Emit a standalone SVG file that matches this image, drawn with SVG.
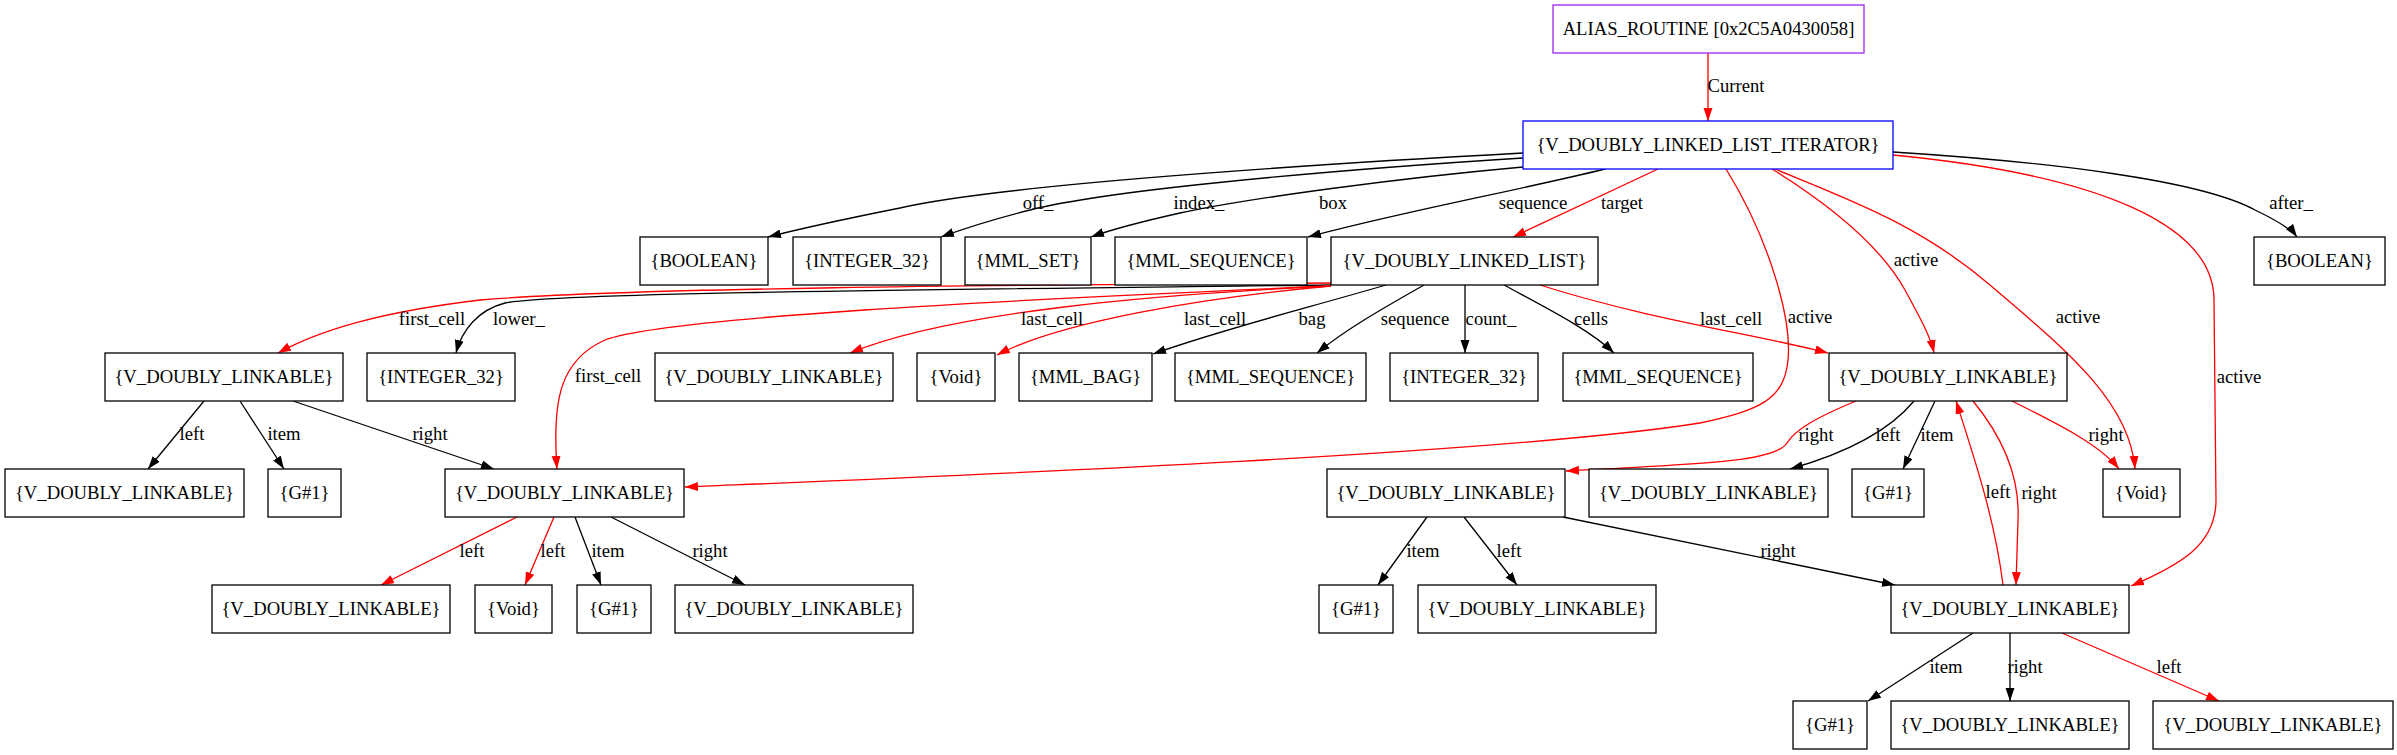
<svg xmlns="http://www.w3.org/2000/svg" width="2397" height="755" viewBox="0 0 2397 755">
<style>
.n rect{fill:#fff;stroke:#000;stroke-width:1.3}
.n text,.l{font-family:"Liberation Serif","Times New Roman",serif;font-size:18.67px;fill:#000;text-anchor:middle}
.e{fill:none;stroke:#000;stroke-width:1.3;marker-end:url(#ab)}
.r{stroke:#f00;marker-end:url(#ar)}
</style>
<defs>
<marker id="ab" markerUnits="userSpaceOnUse" markerWidth="14" markerHeight="10" refX="13" refY="4.5" orient="auto"><path d="M0,0 L13,4.5 L0,9 z" fill="#000"/></marker>
<marker id="ar" markerUnits="userSpaceOnUse" markerWidth="14" markerHeight="10" refX="13" refY="4.5" orient="auto"><path d="M0,0 L13,4.5 L0,9 z" fill="#f00"/></marker>
</defs>
<rect width="2397" height="755" fill="#fff"/>
<g id="edges">
<path class="e r" d="M1708,53 L1708,121"/>
<path class="e" d="M1523,153 C1300,165 1000,185 900,208 C830,222 795,230 768,237"/>
<path class="e" d="M1523,158 C1300,172 1100,192 1030,210 C990,220 960,230 941,237"/>
<path class="e" d="M1523,167 C1400,178 1250,198 1180,213 C1140,222 1110,230 1091,237"/>
<path class="e" d="M1605,169 C1520,190 1400,212 1308,237"/>
<path class="e r" d="M1658,169 L1513,237"/>
<path class="e r" d="M1726,169 C1770,240 1792,320 1788,360 C1784,400 1760,410 1700,423 C1500,455 900,478 685,487"/>
<path class="e r" d="M1772,169 C1830,205 1880,245 1905,290 C1920,318 1930,335 1934,353"/>
<path class="e r" d="M1775,169 C1850,200 1920,225 1990,285 C2060,345 2130,400 2135,469"/>
<path class="e r" d="M1893,155 C2100,175 2214,225 2214,300 L2216,500 C2216,545 2180,565 2131,586"/>
<path class="e" d="M1893,152 C2050,162 2200,180 2255,210 C2280,222 2292,230 2297,237"/>
<path class="e r" d="M1331,283 C1000,285 620,288 480,300 C380,312 320,330 278,353"/>
<path class="e" d="M1331,285 C1000,289 560,292 505,303 C478,310 462,330 456,353"/>
<path class="e r" d="M1331,286 C1000,300 660,318 605,340 C560,360 552,400 557,469"/>
<path class="e r" d="M1331,286 C1150,295 950,312 850,353"/>
<path class="e r" d="M1331,286 C1200,298 1060,322 997,355"/>
<path class="e" d="M1386,285 C1300,310 1220,330 1153,354"/>
<path class="e" d="M1424,285 C1380,310 1345,330 1317,353"/>
<path class="e" d="M1465,285 L1465,353"/>
<path class="e" d="M1504,285 C1550,310 1590,330 1614,353"/>
<path class="e r" d="M1540,285 C1650,320 1760,335 1828,353"/>
<path class="e" d="M204,401 L148,469"/>
<path class="e" d="M240,401 L284,469"/>
<path class="e" d="M293,401 L494,469"/>
<path class="e r" d="M517,517 L381,585"/>
<path class="e r" d="M554,517 L525,585"/>
<path class="e" d="M575,517 L601,585"/>
<path class="e" d="M611,517 L745,585"/>
<path class="e r" d="M1856,401 C1815,418 1795,430 1787,443 C1775,462 1700,464 1566,471"/>
<path class="e" d="M1914,401 C1890,430 1850,452 1790,469"/>
<path class="e" d="M1935,401 L1903,469"/>
<path class="e r" d="M2012,401 C2060,425 2100,445 2119,469"/>
<path class="e r" d="M1973,401 C2005,440 2020,480 2018,520 L2016,585"/>
<path class="e r" d="M2003,585 C1995,520 1975,460 1956,401"/>
<path class="e" d="M1427,517 L1378,585"/>
<path class="e" d="M1464,517 L1517,585"/>
<path class="e" d="M1563,517 L1895,585"/>
<path class="e" d="M1973,633 L1868,701"/>
<path class="e" d="M2010,633 L2010,701"/>
<path class="e r" d="M2062,633 L2219,701"/>
<text class="l" x="1736" y="92">Current</text>
<text class="l" x="1038" y="209">off_</text>
<text class="l" x="1199" y="209">index_</text>
<text class="l" x="1333" y="209">box</text>
<text class="l" x="1533" y="209">sequence</text>
<text class="l" x="1622" y="209">target</text>
<text class="l" x="1810" y="323">active</text>
<text class="l" x="1916" y="266">active</text>
<text class="l" x="2078" y="323">active</text>
<text class="l" x="2239" y="383">active</text>
<text class="l" x="2291" y="209">after_</text>
<text class="l" x="432" y="325">first_cell</text>
<text class="l" x="519" y="325">lower_</text>
<text class="l" x="608" y="382">first_cell</text>
<text class="l" x="1052" y="325">last_cell</text>
<text class="l" x="1215" y="325">last_cell</text>
<text class="l" x="1312" y="325">bag</text>
<text class="l" x="1415" y="325">sequence</text>
<text class="l" x="1491" y="325">count_</text>
<text class="l" x="1591" y="325">cells</text>
<text class="l" x="1731" y="325">last_cell</text>
<text class="l" x="192" y="440">left</text>
<text class="l" x="284" y="440">item</text>
<text class="l" x="430" y="440">right</text>
<text class="l" x="472" y="557">left</text>
<text class="l" x="553" y="557">left</text>
<text class="l" x="608" y="557">item</text>
<text class="l" x="710" y="557">right</text>
<text class="l" x="1816" y="441">right</text>
<text class="l" x="1888" y="441">left</text>
<text class="l" x="1937" y="441">item</text>
<text class="l" x="2106" y="441">right</text>
<text class="l" x="1998" y="498">left</text>
<text class="l" x="2039" y="499">right</text>
<text class="l" x="1423" y="557">item</text>
<text class="l" x="1509" y="557">left</text>
<text class="l" x="1778" y="557">right</text>
<text class="l" x="1946" y="673">item</text>
<text class="l" x="2025" y="673">right</text>
<text class="l" x="2169" y="673">left</text>
</g>
<g id="alias" class="n"><rect x="1553" y="5" width="311" height="48" style="stroke:#a020f0"/><text x="1708.5" y="35">ALIAS_ROUTINE [0x2C5A0430058]</text></g>
<g id="iter" class="n"><rect x="1523" y="121" width="370" height="48" style="stroke:#00f"/><text x="1708" y="151">{V_DOUBLY_LINKED_LIST_ITERATOR}</text></g>
<g id="bool1" class="n"><rect x="640" y="237" width="128" height="48"/><text x="704" y="267">{BOOLEAN}</text></g>
<g id="int1" class="n"><rect x="793" y="237" width="148" height="48"/><text x="867" y="267">{INTEGER_32}</text></g>
<g id="mmlset" class="n"><rect x="965" y="237" width="126" height="48"/><text x="1028" y="267">{MML_SET}</text></g>
<g id="mmlseq1" class="n"><rect x="1115" y="237" width="192" height="48"/><text x="1211" y="267">{MML_SEQUENCE}</text></g>
<g id="vdll" class="n"><rect x="1331" y="237" width="267" height="48"/><text x="1464.5" y="267">{V_DOUBLY_LINKED_LIST}</text></g>
<g id="bool2" class="n"><rect x="2254" y="237" width="131" height="48"/><text x="2319.5" y="267">{BOOLEAN}</text></g>
<g id="vdlA" class="n"><rect x="105" y="353" width="238" height="48"/><text x="224" y="383">{V_DOUBLY_LINKABLE}</text></g>
<g id="int2" class="n"><rect x="367" y="353" width="148" height="48"/><text x="441" y="383">{INTEGER_32}</text></g>
<g id="vdlB" class="n"><rect x="655" y="353" width="238" height="48"/><text x="774" y="383">{V_DOUBLY_LINKABLE}</text></g>
<g id="void1" class="n"><rect x="917" y="353" width="78" height="48"/><text x="956" y="383">{Void}</text></g>
<g id="mmlbag" class="n"><rect x="1019" y="353" width="133" height="48"/><text x="1085.5" y="383">{MML_BAG}</text></g>
<g id="mmlseq2" class="n"><rect x="1175" y="353" width="191" height="48"/><text x="1270.5" y="383">{MML_SEQUENCE}</text></g>
<g id="int3" class="n"><rect x="1390" y="353" width="148" height="48"/><text x="1464" y="383">{INTEGER_32}</text></g>
<g id="mmlseq3" class="n"><rect x="1563" y="353" width="190" height="48"/><text x="1658" y="383">{MML_SEQUENCE}</text></g>
<g id="vdlC" class="n"><rect x="1829" y="353" width="238" height="48"/><text x="1948" y="383">{V_DOUBLY_LINKABLE}</text></g>
<g id="vdlA1" class="n"><rect x="5" y="469" width="239" height="48"/><text x="124.5" y="499">{V_DOUBLY_LINKABLE}</text></g>
<g id="g1a" class="n"><rect x="268" y="469" width="73" height="48"/><text x="304.5" y="499">{G#1}</text></g>
<g id="vdlF" class="n"><rect x="445" y="469" width="239" height="48"/><text x="564.5" y="499">{V_DOUBLY_LINKABLE}</text></g>
<g id="vdlD" class="n"><rect x="1327" y="469" width="238" height="48"/><text x="1446" y="499">{V_DOUBLY_LINKABLE}</text></g>
<g id="vdlE" class="n"><rect x="1589" y="469" width="239" height="48"/><text x="1708.5" y="499">{V_DOUBLY_LINKABLE}</text></g>
<g id="g1b" class="n"><rect x="1852" y="469" width="72" height="48"/><text x="1888" y="499">{G#1}</text></g>
<g id="void2" class="n"><rect x="2103" y="469" width="77" height="48"/><text x="2141.5" y="499">{Void}</text></g>
<g id="vdlF1" class="n"><rect x="212" y="585" width="238" height="48"/><text x="331" y="615">{V_DOUBLY_LINKABLE}</text></g>
<g id="void3" class="n"><rect x="475" y="585" width="77" height="48"/><text x="513.5" y="615">{Void}</text></g>
<g id="g1c" class="n"><rect x="577" y="585" width="74" height="48"/><text x="614" y="615">{G#1}</text></g>
<g id="vdlF2" class="n"><rect x="675" y="585" width="238" height="48"/><text x="794" y="615">{V_DOUBLY_LINKABLE}</text></g>
<g id="g1d" class="n"><rect x="1319" y="585" width="74" height="48"/><text x="1356" y="615">{G#1}</text></g>
<g id="vdlD1" class="n"><rect x="1418" y="585" width="238" height="48"/><text x="1537" y="615">{V_DOUBLY_LINKABLE}</text></g>
<g id="vdlG" class="n"><rect x="1891" y="585" width="238" height="48"/><text x="2010" y="615">{V_DOUBLY_LINKABLE}</text></g>
<g id="g1e" class="n"><rect x="1793" y="701" width="74" height="48"/><text x="1830" y="731">{G#1}</text></g>
<g id="vdlG1" class="n"><rect x="1891" y="701" width="238" height="48"/><text x="2010" y="731">{V_DOUBLY_LINKABLE}</text></g>
<g id="vdlG2" class="n"><rect x="2153" y="701" width="240" height="48"/><text x="2273" y="731">{V_DOUBLY_LINKABLE}</text></g>
</svg>
